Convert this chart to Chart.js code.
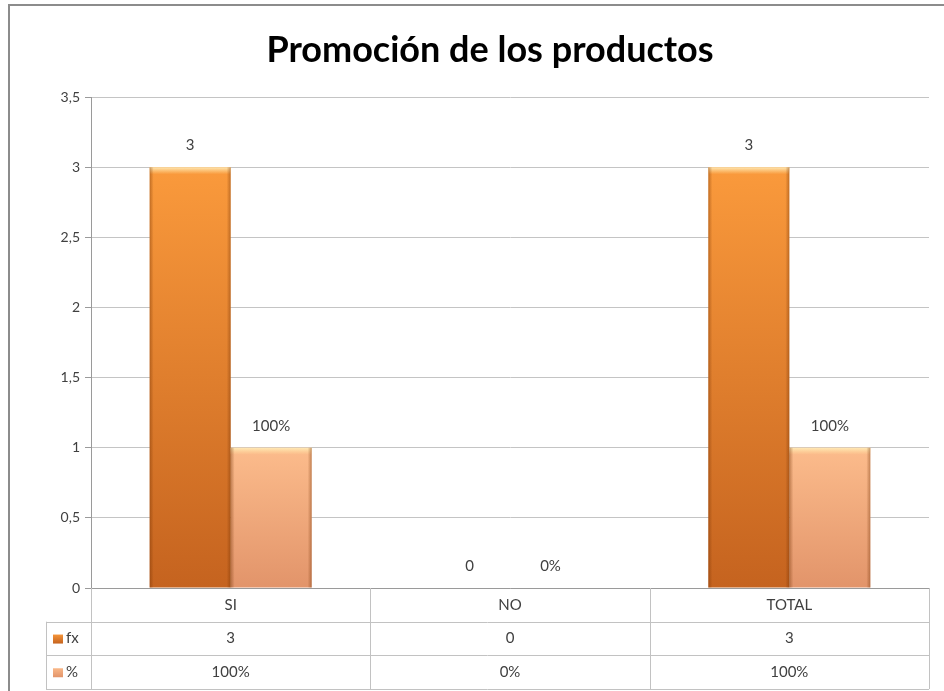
<!DOCTYPE html>
<html>
<head>
<meta charset="utf-8">
<title>Promoción de los productos</title>
<script src="https://cdn.jsdelivr.net/npm/chart.js@4/dist/chart.umd.min.js"></script>
<style>
  html, body { margin: 0; padding: 0; background: #fff; }
  #wrap { width: 944px; height: 691px; }
</style>
</head>
<body>
<div id="wrap"><canvas id="promoChart" width="944" height="691"></canvas></div>
<script>
const categories = ['SI', 'NO', 'TOTAL'];
const seriesNames = ['fx', '%'];
const fxValues = [3, 0, 3];
const pctValues = [1, 0, 1];   // stored as a fraction, shown as percent
const yTicks = [0, 0.5, 1, 1.5, 2, 2.5, 3, 3.5];

const FONT = 'Lato, "Open Sans", sans-serif';
const fxColors = ['#FA9A3C', '#C5631F'];
const pctColors = ['#FCBC8C', '#E2946A'];

const fmtFx = v => String(v);
const fmtPct = v => Math.round(v * 100) + '%';
const formatters = [fmtFx, fmtPct];

function barFill(colors) {
  return (c) => {
    const chart = c.chart;
    const y = chart.scales && chart.scales.y;
    if (!y || c.raw == null) return colors[1];
    const top = y.getPixelForValue(c.raw);
    const bot = y.getPixelForValue(0);
    if (!isFinite(top) || !isFinite(bot) || bot - top < 1) return colors[1];
    const g = chart.ctx.createLinearGradient(0, top, 0, bot);
    g.addColorStop(0, colors[0]);
    g.addColorStop(1, colors[1]);
    return g;
  };
}

// gray frame round the whole chart
const frame = {
  id: 'frame',
  beforeDraw(chart) {
    const ctx = chart.ctx;
    ctx.save();
    ctx.strokeStyle = '#8c8c8c';
    ctx.lineWidth = 2;
    ctx.beginPath();
    ctx.moveTo(9, chart.height);
    ctx.lineTo(9, 5);
    ctx.lineTo(chart.width, 5);
    ctx.stroke();
    ctx.restore();
  }
};

// light bevel on the top and darker sides of each bar
const bevel = {
  id: 'bevel',
  afterDatasetsDraw(chart) {
    const ctx = chart.ctx;
    ctx.save();
    chart.data.datasets.forEach((ds, di) => {
      chart.getDatasetMeta(di).data.forEach(el => {
        const h = el.base - el.y;
        if (!isFinite(h) || h < 3) return;
        const l = el.x - el.width / 2, r = el.x + el.width / 2;
        let g = ctx.createLinearGradient(0, el.y, 0, el.y + 7);
        g.addColorStop(0, 'rgba(255,236,185,0.95)');
        g.addColorStop(1, 'rgba(255,225,160,0)');
        ctx.fillStyle = g;
        ctx.fillRect(l, el.y, el.width, 7);
        g = ctx.createLinearGradient(l, 0, l + 4, 0);
        g.addColorStop(0, 'rgba(110,45,0,0.40)');
        g.addColorStop(1, 'rgba(110,45,0,0)');
        ctx.fillStyle = g;
        ctx.fillRect(l, el.y, 4, h);
        g = ctx.createLinearGradient(r, 0, r - 4, 0);
        g.addColorStop(0, 'rgba(110,45,0,0.40)');
        g.addColorStop(1, 'rgba(110,45,0,0)');
        ctx.fillStyle = g;
        ctx.fillRect(r - 4, el.y, 4, h);
      });
    });
    ctx.restore();
  }
};

// value labels above the bars
const valueLabels = {
  id: 'valueLabels',
  afterDatasetsDraw(chart) {
    const ctx = chart.ctx;
    ctx.save();
    ctx.font = '15px ' + FONT;
    ctx.fillStyle = '#404040';
    ctx.textAlign = 'center';
    ctx.textBaseline = 'middle';
    chart.data.datasets.forEach((ds, di) => {
      chart.getDatasetMeta(di).data.forEach((el, i) => {
        ctx.fillText(formatters[di](ds.data[i]), el.x, el.y - 22);
      });
    });
    ctx.restore();
  }
};

// data table under the x axis
const dataTable = {
  id: 'dataTable',
  afterDraw(chart) {
    const ctx = chart.ctx;
    const a = chart.chartArea;
    const x = chart.scales.x;
    const rowH = 33.7;
    const top = a.bottom;
    const legLeft = 46;
    const colW = (a.right - a.left) / categories.length;
    ctx.save();
    ctx.strokeStyle = '#c2c2c2';
    ctx.lineWidth = 1;
    ctx.beginPath();
    for (let r = 1; r <= 3; r++) {
      const y = Math.round(top + r * rowH) + 0.5;
      ctx.moveTo(legLeft, y);
      ctx.lineTo(a.right, y);
    }
    for (let i = 0; i <= categories.length; i++) {
      const xx = Math.round(a.left + i * colW) + 0.5;
      ctx.moveTo(xx, top);
      ctx.lineTo(xx, top + 3 * rowH);
    }
    ctx.moveTo(legLeft + 0.5, top + rowH);
    ctx.lineTo(legLeft + 0.5, top + 3 * rowH);
    ctx.stroke();

    ctx.font = '15px ' + FONT;
    ctx.fillStyle = '#404040';
    ctx.textAlign = 'center';
    ctx.textBaseline = 'middle';
    categories.forEach((c, i) => {
      const cx = x.getPixelForValue(i);
      ctx.fillText(c, cx, top + rowH / 2);
      chart.data.datasets.forEach((ds, di) => {
        ctx.fillText(formatters[di](ds.data[i]), cx, top + rowH * (1.5 + di));
      });
    });

    // series keys in the first column
    [fxColors, pctColors].forEach((cols, di) => {
      const cy = top + rowH * (1.5 + di);
      const g = ctx.createLinearGradient(0, cy - 5, 0, cy + 5);
      g.addColorStop(0, cols[0]);
      g.addColorStop(1, cols[1]);
      ctx.fillStyle = g;
      ctx.fillRect(53, cy - 4, 10, 9);
      ctx.fillStyle = '#404040';
      ctx.textAlign = 'left';
      ctx.fillText(seriesNames[di], 66, cy);
    });
    ctx.restore();
  }
};

const ctx = document.getElementById('promoChart').getContext('2d');
const promoChart = new Chart(ctx, {
  type: 'bar',
  data: {
    labels: categories,
    datasets: [
      { label: seriesNames[0], data: fxValues, backgroundColor: barFill(fxColors) },
      { label: seriesNames[1], data: pctValues, backgroundColor: barFill(pctColors) }
    ]
  },
  options: {
    responsive: false,
    animation: false,
    events: [],
    categoryPercentage: 0.58,
    barPercentage: 1.0,
    layout: { padding: { left: 51, right: 15, top: 9, bottom: 95 } },
    plugins: {
      legend: { display: false },
      tooltip: { enabled: false },
      title: {
        display: true,
        text: 'Promoción de los productos',
        color: '#000',
        font: { family: FONT, size: 36, weight: 'bold', lineHeight: 1.2 },
        padding: { top: 20, bottom: 25 }
      }
    },
    scales: {
      x: {
        grid: { display: false },
        ticks: { display: false },
        border: { display: true, color: '#9a9a9a' }
      },
      y: {
        min: yTicks[0],
        max: yTicks[yTicks.length - 1],
        afterFit: s => { s.width = 40; },
        ticks: {
          stepSize: yTicks[1] - yTicks[0],
          padding: 5,
          color: '#404040',
          font: { family: FONT, size: 14 },
          callback: v => String(v).replace('.', ',')
        },
        grid: { color: '#c4c4c4', tickColor: '#9a9a9a', tickLength: 6 },
        border: { display: true, color: '#9a9a9a' }
      }
    }
  },
  plugins: [frame, bevel, valueLabels, dataTable]
});
</script>
</body>
</html>
